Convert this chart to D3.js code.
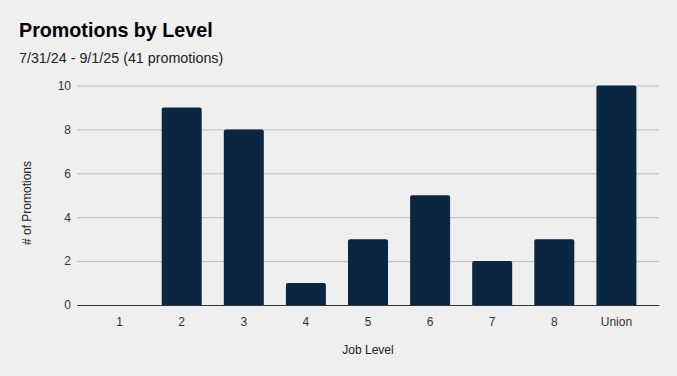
<!DOCTYPE html>
<html>
<head>
<meta charset="utf-8">
<script src="https://cdn.jsdelivr.net/npm/d3@7"></script>
<style>
  body { margin: 0; background: #efefef; }
  svg { display: block; font-family: Arial, "Liberation Sans", sans-serif; }
</style>
</head>
<body>
<div id="chart-area"></div>
<script>
const levels = ['1', '2', '3', '4', '5', '6', '7', '8', 'Union'];
const promotions = [0, 9, 8, 1, 3, 5, 2, 3, 10];
const yTicks = [0, 2, 4, 6, 8, 10];

const W = 677, H = 376;
const margin = {left: 77, right: 18, top: 85.5, bottom: 71};
const width = W - margin.left - margin.right;
const height = H - margin.top - margin.bottom;

const svg = d3.select('#chart-area')
    .append('svg')
    .attr('width', W)
    .attr('height', H);

svg.append('rect')
    .attr('width', W)
    .attr('height', H)
    .attr('fill', '#efefef');

svg.append('text')
    .attr('x', 19)
    .attr('y', 37)
    .attr('font-size', '19.7px')
    .attr('font-weight', 'bold')
    .attr('fill', '#000')
    .text('Promotions by Level');

svg.append('text')
    .attr('x', 19)
    .attr('y', 63)
    .attr('font-size', '14.3px')
    .attr('fill', '#222')
    .text('7/31/24 - 9/1/25 (41 promotions)');

const g = svg.append('g')
    .attr('transform', `translate(${margin.left}, ${margin.top})`);

const x = d3.scaleBand()
    .domain(levels)
    .range([0, width])
    .paddingInner(0.356)
    .paddingOuter(0.364);

const y = d3.scaleLinear()
    .domain([0, 10])
    .range([height, 0]);

// gridlines + y labels
const yAxisCall = d3.axisLeft(y)
    .tickValues(yTicks)
    .tickSize(-width)
    .tickPadding(6);
const yAxis = g.append('g')
    .attr('class', 'y axis')
    .call(yAxisCall);
yAxis.select('.domain').remove();
yAxis.selectAll('line').attr('stroke', '#bdbdbd');
yAxis.selectAll('text')
    .attr('font-size', '12px')
    .attr('font-family', 'Arial, "Liberation Sans", sans-serif')
    .attr('fill', '#333');

const data = levels.map((l, i) => ({level: l, value: promotions[i]}));

g.selectAll('path.bar')
    .data(data.filter(d => d.value > 0))
    .enter()
    .append('path')
        .attr('class', 'bar')
        .attr('fill', '#0b2640')
        .attr('d', d => {
            const x0 = x(d.level), x1 = x0 + x.bandwidth();
            const y0 = y(d.value), y1 = y(0), r = 2;
            return `M${x0},${y1}V${y0 + r}Q${x0},${y0} ${x0 + r},${y0}H${x1 - r}Q${x1},${y0} ${x1},${y0 + r}V${y1}Z`;
        });

// baseline + x labels
const xAxisCall = d3.axisBottom(x).tickSize(0).tickPadding(12);
const xAxis = g.append('g')
    .attr('class', 'x axis')
    .attr('transform', `translate(0, ${height})`)
    .call(xAxisCall);
xAxis.select('.domain').attr('stroke', '#333').attr('stroke-width', 1.2);
xAxis.selectAll('text')
    .attr('font-size', '12px')
    .attr('font-family', 'Arial, "Liberation Sans", sans-serif')
    .attr('fill', '#333');

svg.append('text')
    .attr('x', margin.left + width / 2)
    .attr('y', 354)
    .attr('font-size', '12px')
    .attr('text-anchor', 'middle')
    .attr('fill', '#222')
    .text('Job Level');

svg.append('text')
    .attr('transform', 'translate(31, 203) rotate(-90)')
    .attr('font-size', '12px')
    .attr('text-anchor', 'middle')
    .attr('fill', '#222')
    .text('# of Promotions');
</script>
</body>
</html>
